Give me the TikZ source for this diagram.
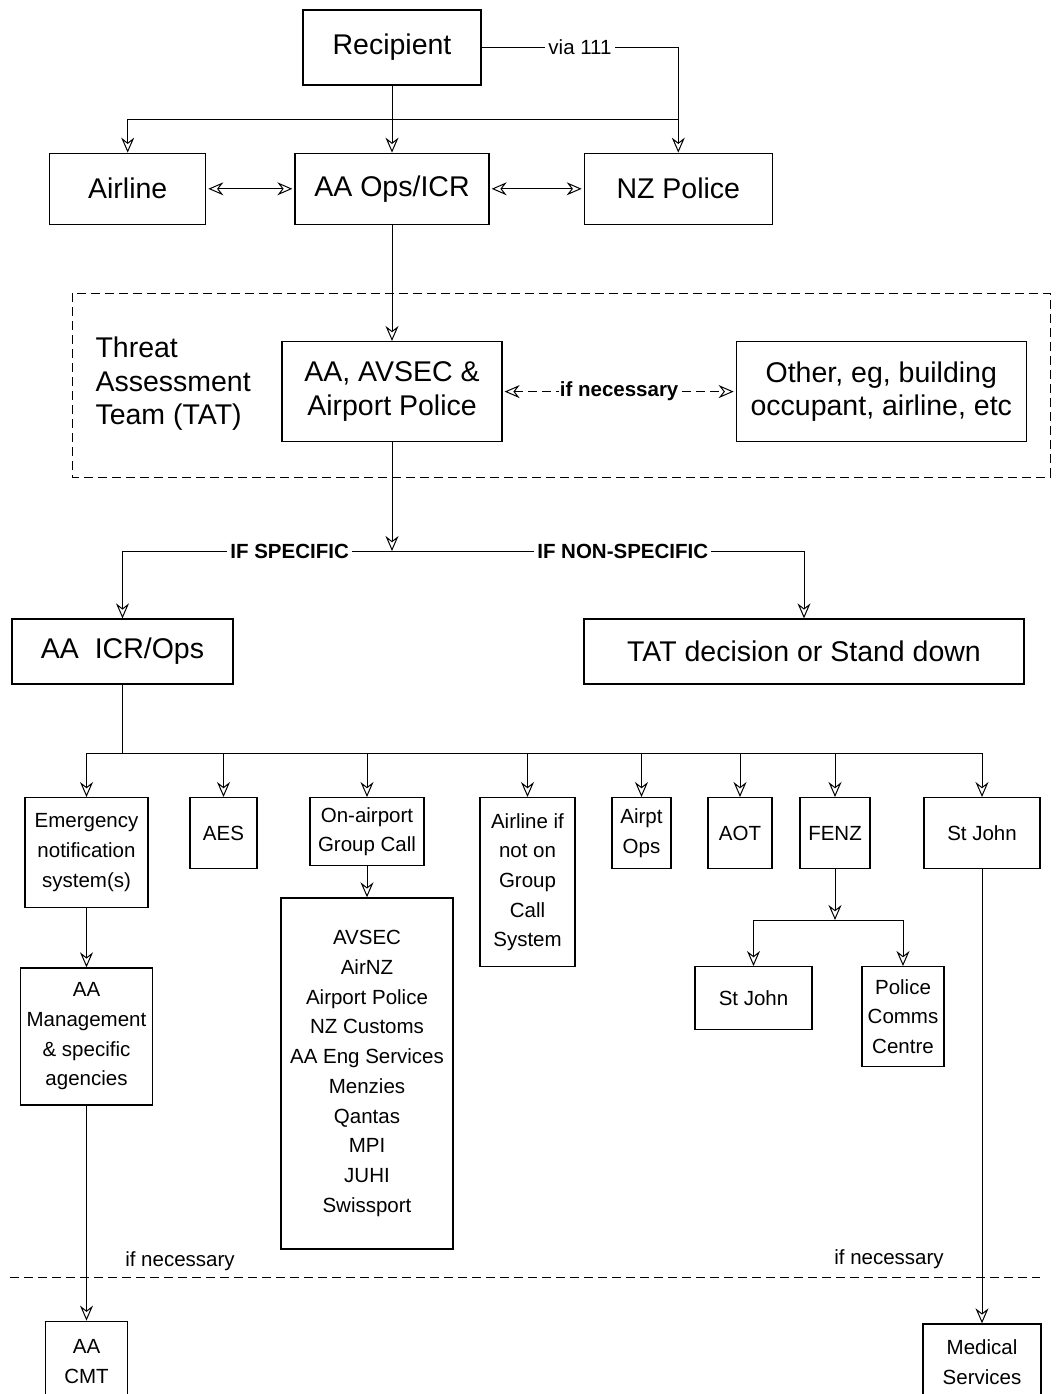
\documentclass[tikz,border=0pt]{standalone}
\usepackage{fontspec}
\setmainfont{Liberation Sans}
\usetikzlibrary{arrows.meta,positioning,calc}

\newcommand\bigtxt{\fontsize{28.5}{33.5}\selectfont}
\newcommand\smalltxt{\fontsize{20.5}{29.7}\selectfont}

\begin{document}
\begin{tikzpicture}[
    x=1pt, y=-1pt, line width=1pt,
    box/.style={rectangle, draw, line width=1.3pt, inner sep=0pt, align=center, font=\bigtxt},
    smallbox/.style={rectangle, draw, line width=1.3pt, inner sep=0pt, align=center, font=\smalltxt},
    lbl/.style={fill=white, inner sep=3pt, font=\smalltxt},
    boldlbl/.style={lbl, font=\smalltxt\bfseries},
    arrow/.style={-{Stealth[open, length=15pt, width=13pt, inset=5pt]}},
    dblarrow/.style={{Stealth[open, length=15pt, width=13pt, inset=5pt]}-{Stealth[open, length=15pt, width=13pt, inset=5pt]}, shorten <=2pt, shorten >=2pt},
    sep/.style={dash pattern=on 9pt off 5pt}
]
\useasboundingbox (0,0) rectangle (1057,1394);
\clip (0,0) rectangle (1057,1394);

% top row
\node[box, minimum width=178pt, minimum height=75pt] (recipient) at (392,47.5) {Recipient};
\node[box, minimum width=194pt, minimum height=71pt, below=67pt of recipient] (aaops) {AA Ops/ICR};
\node[box, minimum width=156pt, minimum height=71pt, left=88pt of aaops] (airline) {Airline};
\node[box, minimum width=188pt, minimum height=71pt, right=94pt of aaops] (nzpolice) {NZ Police};

% threat assessment team
\draw[sep] (72,293) rectangle (1050,477);
\node[font=\bigtxt, align=left, anchor=west, inner sep=0pt] (tatlabel) at (95,384) {Threat\\Assessment\\Team (TAT)};
\node[box, minimum width=220pt, minimum height=100pt, below=116pt of aaops] (aavsec) {AA, AVSEC \&\\Airport Police};
\node[box, minimum width=290pt, minimum height=100pt, right=233pt of aavsec] (other) {Other, eg, building\\occupant, airline, etc};

% decision
\coordinate (split) at (392,551);
\node[box, minimum width=221pt, minimum height=65pt] (icr) at (122.5,651.5) {AA\ \ ICR/Ops};
\node[box, minimum width=440pt, minimum height=65pt] (tatdec) at (804,651.5) {TAT decision or Stand down};

% notification row
\coordinate (bus) at (122.5,753);
\node[smallbox, anchor=north, minimum width=123pt, minimum height=110pt] (emerg) at (86.5,797) {Emergency\\notification\\system(s)};
\node[smallbox, anchor=north, minimum width=67pt, minimum height=71pt] (aes) at (223.5,797) {AES};
\node[smallbox, anchor=north, minimum width=114pt, minimum height=68pt] (groupcall) at (367,797) {On-airport\\Group Call};
\node[smallbox, anchor=north, minimum width=95pt, minimum height=169pt] (airlinenot) at (527.5,797) {Airline if\\not on\\Group\\Call\\System};
\node[smallbox, anchor=north, minimum width=59pt, minimum height=71pt] (airpt) at (641.5,797) {Airpt\\Ops};
\node[smallbox, anchor=north, minimum width=64pt, minimum height=71pt] (aot) at (740,797) {AOT};
\node[smallbox, anchor=north, minimum width=70pt, minimum height=71pt] (fenz) at (835,797) {FENZ};
\node[smallbox, anchor=north, minimum width=116pt, minimum height=71pt] (stjohn) at (982,797) {St John};

\node[smallbox, minimum width=132pt, minimum height=137pt, below=59pt of emerg] (mgmt) {AA\\Management\\\& specific\\agencies};
\node[smallbox, minimum width=172pt, minimum height=351pt, below=31pt of groupcall] (list) {AVSEC\\AirNZ\\Airport Police\\NZ Customs\\AA Eng Services\\Menzies\\Qantas\\MPI\\JUHI\\Swissport};

\coordinate (fsplit) at (835,920);
\node[smallbox, anchor=north, minimum width=117pt, minimum height=63pt] (stjohnb) at (753.5,966) {St John};
\node[smallbox, anchor=north, minimum width=82pt, minimum height=100pt] (comms) at (903,966) {Police\\Comms\\Centre};

% if necessary
\draw[sep] (10,1277) -- (1040,1277);
\node[font=\smalltxt] (necl) at (180,1261) {if necessary};
\node[font=\smalltxt] (necr) at (889,1259) {if necessary};
\node[smallbox, minimum width=82pt, minimum height=80pt, below=215pt of mgmt] (cmt) {AA\\CMT};
\node[smallbox, minimum width=118pt, minimum height=76pt, below=454pt of stjohn] (medical) {Medical\\Services};

% connectors
\draw[arrow] (recipient) -- (aaops);
\coordinate (topbus) at ($(recipient.south)!0.5!(aaops.north)$);
\draw[arrow] (topbus) -| (airline);
\draw (topbus) -- (topbus -| nzpolice);
\draw[arrow] (recipient) -| node[lbl, pos=0.25] {via 111} (nzpolice);
\draw[dblarrow] (airline) -- (aaops);
\draw[dblarrow] (aaops) -- (nzpolice);

\draw[arrow] (aaops) -- (aavsec);
\draw[dblarrow, sep] (aavsec) -- node[boldlbl, inner sep=1pt] {if necessary} (other);

\draw[arrow] (aavsec) -- (split);
\draw[arrow] (split) -| node[boldlbl, pos=0.19] {IF SPECIFIC} (icr);
\draw[arrow] (split) -| node[boldlbl, pos=0.28] {IF NON-SPECIFIC} (tatdec);

\draw (icr) -- (bus);
\foreach \n in {emerg,aes,groupcall,airlinenot,airpt,aot,fenz,stjohn}
    \draw[arrow] (bus) -| (\n);

\draw[arrow] (emerg) -- (mgmt);
\draw[arrow] (groupcall) -- (list);
\draw[arrow] (fenz) -- (fsplit);
\draw[arrow] (fsplit) -| (stjohnb);
\draw[arrow] (fsplit) -| (comms);
\draw[arrow] (mgmt) -- (cmt);
\draw[arrow] (stjohn) -- (medical);

\end{tikzpicture}
\end{document}
